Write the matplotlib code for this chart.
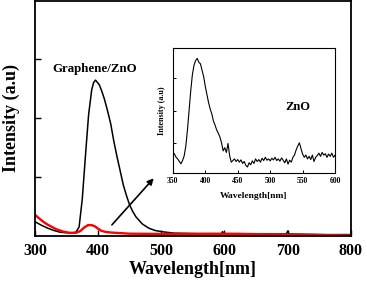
import matplotlib
matplotlib.use("Agg")
import matplotlib.pyplot as plt

plt.rcParams["font.family"] = ["Liberation Serif", "DejaVu Serif"]
plt.rcParams["font.weight"] = "bold"

# main spectra (arbitrary units)
gz_wl = [300, 310, 320, 330, 340, 350, 360, 365, 370, 375, 380, 385, 390, 393, 396,
         399, 402, 406, 410, 415, 420, 425, 430, 435, 440, 445, 450, 455, 460, 470,
         480, 490, 500, 520, 540, 560, 580, 595, 597, 599, 620, 650, 680, 698, 700,
         702, 730, 760, 800]
gz_int = [0.24, 0.18, 0.13, 0.09, 0.06, 0.05, 0.05, 0.06, 0.15, 0.62, 1.35, 2.05, 2.48, 2.6, 2.64,
          2.6, 2.56, 2.45, 2.32, 2.12, 1.9, 1.6, 1.34, 1.1, 0.86, 0.68, 0.52, 0.41, 0.32, 0.2,
          0.13, 0.09, 0.07, 0.045, 0.04, 0.035, 0.035, 0.03, 0.07, 0.03, 0.035, 0.03, 0.03, 0.03, 0.08,
          0.03, 0.025, 0.02, 0.02]

zno_wl = [300, 305, 313, 320, 334, 345, 355, 365, 372, 378, 384, 390, 395, 400, 405,
          412, 420, 435, 450, 500, 600, 700, 800]
zno_int = [0.36, 0.31, 0.24, 0.19, 0.11, 0.07, 0.05, 0.05, 0.08, 0.14, 0.18, 0.18, 0.16, 0.12, 0.085,
           0.065, 0.055, 0.045, 0.035, 0.03, 0.035, 0.02, 0.005]

# inset: ZnO spectrum magnified
ins_wl = [350, 352.5, 355, 357.5, 360, 362.5, 365, 367.5, 370, 372.5,
          375, 377.5, 380, 382.5, 385, 387.5, 390, 392.5, 395, 397.5,
          400, 402.5, 405, 407.5, 410, 412.5, 415, 417.5, 420, 422.5,
          425, 427.5, 430, 432.5, 435, 437.5, 440, 442.5, 445, 447.5,
          450, 452.5, 455, 457.5, 460, 462.5, 465, 467.5, 470, 472.5,
          475, 477.5, 480, 482.5, 485, 487.5, 490, 492.5, 495, 497.5,
          500, 502.5, 505, 507.5, 510, 512.5, 515, 517.5, 520, 522.5,
          525, 527.5, 530, 532.5, 535, 537.5, 540, 542.5, 545, 547.5,
          550, 552.5, 555, 557.5, 560, 562.5, 565, 567.5, 570, 572.5,
          575, 577.5, 580, 582.5, 585, 587.5, 590, 592.5, 595, 597.5, 600]
ins_int = [0.72, 0.65, 0.55, 0.5, 0.42, 0.35, 0.45, 0.6, 0.9, 1.4,
           2.0, 2.6, 3.1, 3.4, 3.55, 3.62, 3.5, 3.45, 3.25, 3.05,
           2.75, 2.5, 2.25, 2.05, 1.9, 1.68, 1.55, 1.4, 1.3, 1.18,
           1.0, 0.75, 0.85, 0.7, 0.98, 0.6, 0.4, 0.45, 0.5, 0.42,
           0.48, 0.4, 0.47, 0.36, 0.42, 0.3, 0.25, 0.38, 0.32, 0.44,
           0.36, 0.5, 0.42, 0.48, 0.4, 0.52, 0.45, 0.55, 0.46, 0.5,
           0.44, 0.52, 0.47, 0.55, 0.45, 0.5, 0.43, 0.53, 0.46, 0.38,
           0.5, 0.34, 0.46, 0.4, 0.55, 0.62, 0.78, 0.9, 1.0, 0.82,
           0.65, 0.55, 0.62, 0.5, 0.58, 0.48, 0.62, 0.42, 0.55, 0.6,
           0.68, 0.58, 0.7, 0.62, 0.66, 0.55, 0.65, 0.58, 0.68, 0.55, 0.62]

fig = plt.figure(figsize=(3.67, 2.81), dpi=100)
ax = fig.add_axes([0.095, 0.161, 0.861, 0.835])
ax.plot(gz_wl, gz_int, color="black", lw=1.1)
ax.plot(zno_wl, zno_int, color="red", lw=1.7)
ax.set_xlim(300, 800)
ax.set_ylim(0, 3.98)
ax.set_xticks([300, 400, 500, 600, 700, 800])
ax.set_yticks([1, 2, 3])
ax.set_yticklabels([])
ax.tick_params(direction="in", length=4, width=1, labelsize=11.5, pad=5)
for lab in ax.get_xticklabels():
    lab.set_fontweight("bold")
for s in ax.spines.values():
    s.set_linewidth(1.3)
ax.set_xlabel("Wavelength[nm]", fontsize=13, fontweight="bold", labelpad=2)
ax.set_ylabel("Intensity (a.u)", fontsize=13, fontweight="bold", labelpad=6)
ax.text(395, 2.83, "Graphene/ZnO", fontsize=9.3, fontweight="bold", ha="center", va="center")
ax.annotate("", xy=(491, 1.01), xytext=(419, 0.15),
            arrowprops=dict(arrowstyle="-|>", color="black", lw=1.2, mutation_scale=9))

ins = fig.add_axes([0.471, 0.384, 0.442, 0.445])
ins.plot(ins_wl, ins_int, color="black", lw=0.8)
ins.set_xlim(350, 600)
ins.set_ylim(0.06, 3.94)
ins.set_xticks([350, 400, 450, 500, 550, 600])
ins.set_yticks([1, 2, 3])
ins.set_yticklabels([])
ins.tick_params(direction="in", length=2, width=0.7, labelsize=5.5, pad=3)
for lab in ins.get_xticklabels():
    lab.set_fontweight("bold")
for s in ins.spines.values():
    s.set_linewidth(0.8)
ins.set_xlabel("Wavelength[nm]", fontsize=6.8, fontweight="bold", labelpad=5)
ins.set_ylabel("Intensity (a.u)", fontsize=5.8, fontweight="bold", labelpad=2)
ins.text(542, 2.1, "ZnO", fontsize=9, fontweight="bold", ha="center", va="center")

fig.savefig("out.png", dpi=100)
